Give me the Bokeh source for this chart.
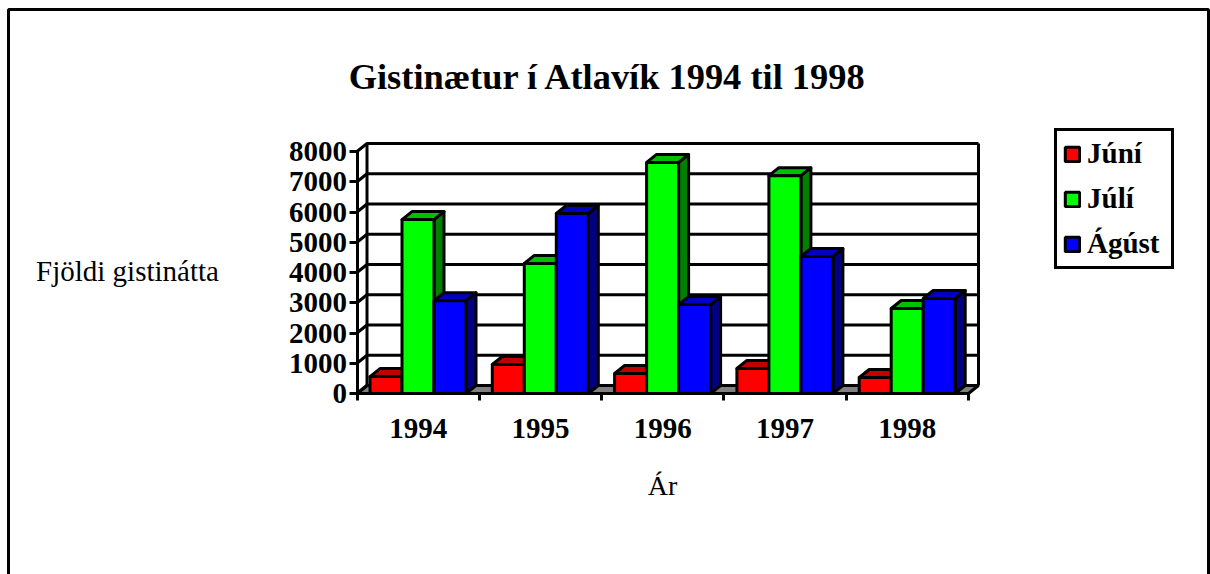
from bokeh.plotting import figure
from bokeh.models import Range1d, LinearAxis, FixedTicker, Legend, LegendItem, Label, BoxAnnotation
from bokeh.embed import file_html
from bokeh.resources import INLINE

years = ["1994", "1995", "1996", "1997", "1998"]
june = [560, 960, 660, 830, 530]
july = [5750, 4300, 7640, 7200, 2810]
august = [3070, 5950, 2940, 4530, 3140]
y_ticks = [0, 1000, 2000, 3000, 4000, 5000, 6000, 7000, 8000]
title_text = "Gistinætur í Atlavík 1994 til 1998"
x_title = "Ár"
y_title = "Fjöldi gistinátta"

FONT = "Liberation Serif"
W, H = 1210, 574
X0, Y0 = 356.5, 393          # where the front axes meet, in pixels
PX_X, PX_Y = 122.3, 0.03025  # pixels per category, pixels per night
DX, DY = 10 / PX_X, 8 / PX_Y

p = figure(width=W, height=H, output_backend="svg", toolbar_location=None,
           x_range=Range1d(-X0 / PX_X, (W - X0) / PX_X),
           y_range=Range1d(-(H - Y0) / PX_Y, Y0 / PX_Y),
           x_axis_location=None, y_axis_location=None,
           min_border=0)
p.outline_line_color = None
p.grid.visible = False
p.background_fill_color = "white"
p.border_fill_color = "white"

p.add_layout(BoxAnnotation(left=8, right=1208, top=9, bottom=H + 20,
                           left_units="canvas", right_units="canvas",
                           top_units="canvas", bottom_units="canvas",
                           fill_color=None, line_color="black", line_alpha=1, line_width=3))

# walls and floor
p.patch([0, DX, 5 + DX, 5], [0, DY, DY, 0], fill_color="#808080", line_color="black", line_width=3)
for t in y_ticks:
    p.line([0, DX, 5 + DX], [t, t + DY, t + DY], line_color="black", line_width=3)
p.line([DX, DX], [DY, 8000 + DY], line_color="black", line_width=3)
p.line([5 + DX, 5 + DX], [DY, 8000 + DY], line_color="black", line_width=3)

# bars
BW = 32 / PX_X
OFF = 13 / PX_X
series = [("Júní", june, "#ff0000", "#c00000", "#800000"),
          ("Júlí", july, "#00ff00", "#00c000", "#008000"),
          ("Ágúst", august, "#0000ff", "#0000c0", "#000080")]
items = []
for k, (name, vals, front, top, side) in enumerate(series):
    ls = [i + OFF + k * BW for i in range(len(vals))]
    rs = [l + BW for l in ls]
    p.patches([[r, r + DX, r + DX, r] for r in rs],
              [[0, DY, v + DY, v] for v in vals],
              fill_color=side, line_color="black", line_width=3, line_join="round")
    p.patches([[l, l + DX, r + DX, r] for l, r in zip(ls, rs)],
              [[v, v + DY, v + DY, v] for v in vals],
              fill_color=top, line_color="black", line_width=3, line_join="round")
    rend = p.quad(left=ls, right=rs, bottom=[0] * len(vals), top=vals,
                  fill_color=front, line_color="black", line_width=3)
    items.append(LegendItem(label=name, renderers=[rend]))

# axes, fixed at the front edge of the floor
ya = LinearAxis(ticker=FixedTicker(ticks=y_ticks), bounds=(0, 8000), fixed_location=0,
                major_tick_in=0, major_tick_out=8, minor_tick_line_color=None,
                axis_line_width=3, major_tick_line_width=3,
                major_label_text_font=FONT, major_label_text_font_style="bold",
                major_label_text_font_size="29px", major_label_text_color="black",
                major_label_standoff=2)
p.add_layout(ya, "left")
xa = LinearAxis(ticker=FixedTicker(ticks=[i + 0.5 for i in range(len(years))],
                                   minor_ticks=list(range(len(years) + 1))),
                bounds=(0, 5), fixed_location=0,
                major_label_overrides={i + 0.5: y for i, y in enumerate(years)},
                major_tick_line_color=None, major_tick_in=0, major_tick_out=0,
                minor_tick_line_color="black", minor_tick_line_width=3,
                minor_tick_in=0, minor_tick_out=7,
                axis_line_width=3,
                major_label_text_font=FONT, major_label_text_font_style="bold",
                major_label_text_font_size="29px", major_label_text_color="black",
                major_label_standoff=18)
p.add_layout(xa, "below")

legend = Legend(items=items, location=(1054, 305), orientation="vertical",
                border_line_color="black", border_line_alpha=1, border_line_width=3,
                background_fill_color="white", background_fill_alpha=1,
                label_text_font=FONT, label_text_font_style="bold",
                label_text_font_size="29px", label_text_color="black", label_width=78,
                glyph_width=18, glyph_height=18, label_standoff=6, spacing=12,
                padding=6, margin=0)
p.add_layout(legend, "center")

p.add_layout(Label(x=607.5, y=H - 76, x_units="screen", y_units="screen", text=title_text,
                   text_align="center", text_baseline="middle", text_font=FONT,
                   text_font_style="bold", text_font_size="36.4px", text_color="black"))
p.add_layout(Label(x=127, y=H - 270, x_units="screen", y_units="screen", text=y_title,
                   text_align="center", text_baseline="middle", text_font=FONT,
                   text_font_size="29px", text_color="black"))
p.add_layout(Label(x=662, y=H - 485, x_units="screen", y_units="screen", text=x_title,
                   text_align="center", text_baseline="middle", text_font=FONT,
                   text_font_size="28px", text_color="black"))

open("out.html", "w").write(file_html(p, INLINE))
